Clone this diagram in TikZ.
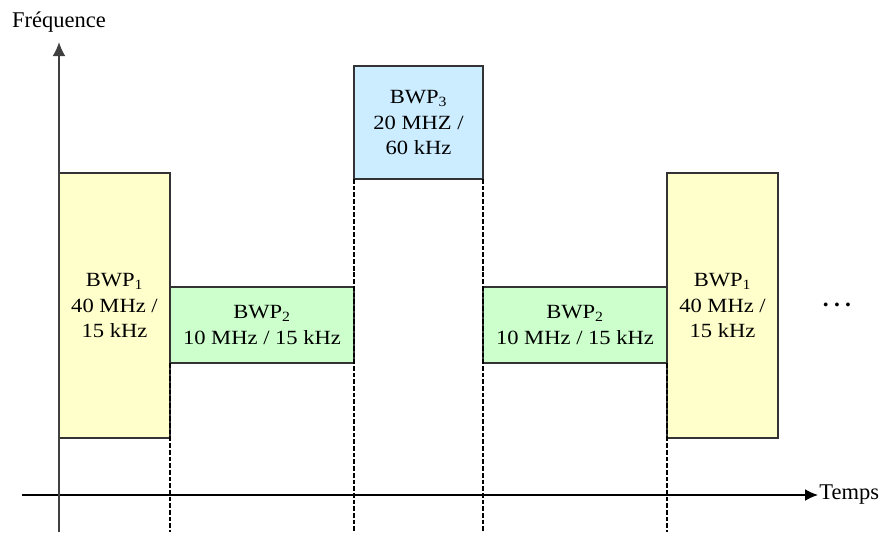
\documentclass[tikz,border=0pt]{standalone}
\usepackage{fontspec}
\setmainfont{Liberation Serif}
\newfontfamily\boxfont{Liberation Serif}[FakeStretch=1.12]
\usepackage{tikz}
\usetikzlibrary{arrows.meta, positioning}
\definecolor{bwpyellow}{RGB}{255,255,204}
\definecolor{bwpgreen}{RGB}{204,255,204}
\definecolor{bwpblue}{RGB}{204,236,255}
\definecolor{edgegray}{RGB}{51,51,51}
\definecolor{axisgray}{RGB}{64,64,64}
\tikzset{
  bwpbox/.style={rectangle, draw=edgegray, line width=0.9pt, inner sep=0pt,
    outer sep=0pt, align=center,
    font=\boxfont\fontsize{17.2}{21.6}\selectfont},
  yellowbox/.style={bwpbox, fill=bwpyellow, minimum width=33.3mm,
    minimum height=79.5mm},
  greenbox/.style={bwpbox, fill=bwpgreen, minimum width=55.2mm,
    minimum height=22.8mm},
  bluebox/.style={bwpbox, fill=bwpblue, minimum width=38.7mm,
    minimum height=33.9mm},
  guide/.style={line width=1.2pt, dash pattern=on 4pt off 1.7pt},
  yarrow/.style={-{Latex[length=12pt, width=11pt]}, line width=1.6pt,
    color=axisgray},
  xarrow/.style={-{Latex[length=11pt, width=10pt]}, line width=1.1pt},
  axislabel/.style={font=\fontsize{19.2}{23}\selectfont, inner sep=1pt},
}
\begin{document}
\begin{tikzpicture}[x=0.3mm, y=-0.3mm]
  \useasboundingbox (0,0) rectangle (880,532);
  % bandwidth parts
  \node[yellowbox] (bwp1a) at (114.5,305.5)
    {BWP\textsubscript{1}\\40 MHz /\\15 kHz};
  \node[greenbox] (bwp2a) at (262,325)
    {BWP\textsubscript{2}\\10 MHz / 15 kHz};
  \node[bluebox] (bwp3) at (418.5,122.5)
    {BWP\textsubscript{3}\\20 MHZ /\\60 kHz};
  \node[greenbox] (bwp2b) at (575,325)
    {BWP\textsubscript{2}\\10 MHz / 15 kHz};
  \node[yellowbox] (bwp1b) at (722.5,305.5)
    {BWP\textsubscript{1}\\40 MHz /\\15 kHz};
  \node[font=\bfseries\fontsize{20}{24}\selectfont, anchor=base]
    (dots) at (837,306) {.\hspace{4.5pt}.\hspace{4.5pt}.};

  % axes
  \coordinate (ybot) at (59,532);
  \coordinate (ytop) at (59,42);
  \coordinate (xbeg) at (22,495);
  \coordinate (xend) at (818,495);
  \node[axislabel] (freq) at (59,22) {Fréquence};
  \node[axislabel, anchor=west] (temps) at (xend) {Temps};

  \foreach \a in {bwp2a.south west, bwp3.south west, bwp3.south east,
                  bwp2b.south east}
    \draw[guide] (\a) -- (\a |- ybot);

  \draw[xarrow] (xbeg) -- (xend);
  \draw[yarrow] (ybot) -- (ytop);
\end{tikzpicture}
\end{document}
